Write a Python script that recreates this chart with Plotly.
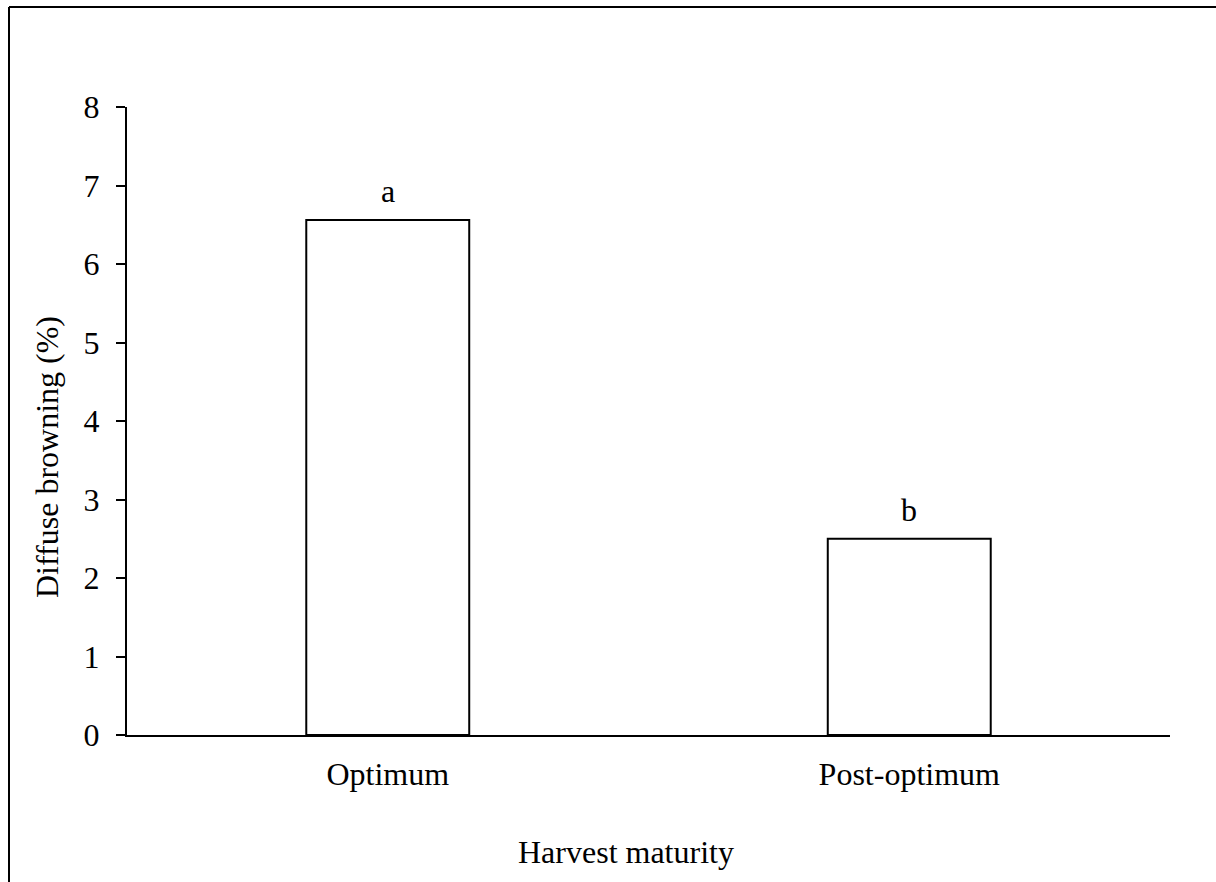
import plotly.graph_objects as go

# Diffuse browning by harvest maturity
categories = ["Optimum", "Post-optimum"]
browning_pct = [6.56, 2.50]
group_letters = ["a", "b"]
y_ticks = [0, 1, 2, 3, 4, 5, 6, 7, 8]
x_title = "Harvest maturity"
y_title = "Diffuse browning (%)"

FONT = "Liberation Serif, Times New Roman, serif"
FS = 32

fig = go.Figure()
fig.add_trace(go.Bar(
    x=categories,
    y=browning_pct,
    marker=dict(color="white", line=dict(color="black", width=2)),
    width=0.3125,
    showlegend=False,
    hoverinfo="x+y",
))

# significance letters above each bar
for cat, val, letter in zip(categories, browning_pct, group_letters):
    fig.add_annotation(
        x=cat, y=val, text=letter, showarrow=False,
        yanchor="bottom", yshift=9,
        font=dict(family=FONT, size=FS, color="black"),
    )

L, R, T, B = 127, 46, 107, 147
W, H = 1216, 882
pw, ph = W - L - R, H - T - B


def px_x(px):
    return (px - L) / pw


def px_y(py):
    return (H - B - py) / ph


# axis titles
fig.add_annotation(
    xref="paper", yref="paper", x=px_x(626), y=px_y(852),
    text=x_title, showarrow=False, xanchor="center", yanchor="middle",
    font=dict(family=FONT, size=FS, color="black"),
)
fig.add_annotation(
    xref="paper", yref="paper", x=px_x(47), y=px_y(457),
    text=y_title, textangle=-90, showarrow=False,
    xanchor="center", yanchor="middle",
    font=dict(family=FONT, size=FS, color="black"),
)

# frame around the figure (left and top edges)
bx, by = px_x(9), px_y(7)
fig.add_shape(type="line", xref="paper", yref="paper",
              x0=bx, y0=by, x1=bx, y1=px_y(H + 20),
              line=dict(color="black", width=2))
fig.add_shape(type="line", xref="paper", yref="paper",
              x0=bx, y0=by, x1=px_x(W + 20), y1=by,
              line=dict(color="black", width=2))

fig.update_layout(
    width=W, height=H,
    margin=dict(l=L, r=R, t=T, b=B),
    paper_bgcolor="white", plot_bgcolor="white",
    font=dict(family=FONT, size=FS, color="black"),
    xaxis=dict(
        showline=True, linecolor="black", linewidth=2,
        ticks="", showgrid=False, zeroline=False,
        ticklabelstandoff=10,
        tickfont=dict(family=FONT, size=FS),
    ),
    yaxis=dict(
        range=[0, 8], tickvals=y_ticks,
        showline=True, linecolor="black", linewidth=2,
        ticks="outside", ticklen=9, tickwidth=2, tickcolor="black",
        showgrid=False, zeroline=False,
        ticklabelstandoff=10,
        tickfont=dict(family=FONT, size=FS),
    ),
)

fig.write_html("out.html")
